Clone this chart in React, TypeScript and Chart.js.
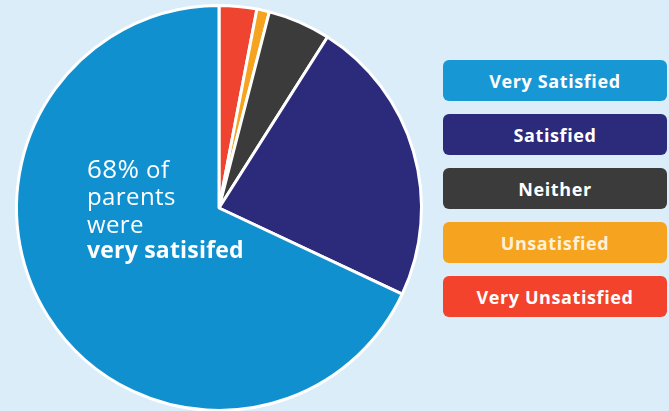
import React, { useEffect, useRef } from "react";
import { Chart, registerables } from "chart.js";

Chart.register(...registerables);

const categories = ["Very Satisfied", "Satisfied", "Neither", "Unsatisfied", "Very Unsatisfied"];
const values = [68, 23, 5, 1, 3];
const sliceColors = ["#1190cf", "#2c2b7b", "#3b3b3c", "#f6a41f", "#ef4430"];
const legendColors = ["#1797d4", "#2c2b7b", "#3b3b3c", "#f6a41f", "#f4432d"];
const legendTextColors = ["#ffffff", "#ffffff", "#ffffff", "#fff1d6", "#ffffff"];
const calloutLines = ["68%", "of", "parents", "were", "very satisifed"];

export default function App() {
  const ref = useRef<HTMLCanvasElement | null>(null);

  useEffect(() => {
    if (!ref.current) return;
    // draw clockwise from 12 o'clock: Very Unsatisfied first, Very Satisfied last
    const order = [4, 3, 2, 1, 0];
    const chart = new Chart(ref.current, {
      type: "pie",
      data: {
        labels: order.map((i) => categories[i]),
        datasets: [
          {
            data: order.map((i) => values[i]),
            backgroundColor: order.map((i) => sliceColors[i]),
            borderColor: "#ffffff",
            borderWidth: 3,
          },
        ],
      },
      options: {
        responsive: false,
        animation: false,
        layout: { padding: 4 },
        plugins: {
          legend: { display: false },
          tooltip: { enabled: false },
        },
      },
    });
    return () => chart.destroy();
  }, []);

  const textFont = "'Open Sans', sans-serif";
  const lineStyle = (top: number, size: number, weight: number): React.CSSProperties => ({
    position: "absolute",
    left: 87,
    top,
    color: "#ffffff",
    fontSize: size,
    lineHeight: "28px",
    fontWeight: weight,
    letterSpacing: 0.4,
    whiteSpace: "nowrap",
    fontFamily: textFont,
  });

  return (
    <div
      style={{
        position: "fixed",
        left: 0,
        top: 0,
        width: 669,
        height: 411,
        background: "#daedf8",
        overflow: "hidden",
        fontFamily: textFont,
      }}
    >
      <canvas
        ref={ref}
        width={438}
        height={416}
        style={{ position: "absolute", left: 0, top: 0, width: 438, height: 416 }}
      />
      <div style={lineStyle(154, 26, 400)}>
        {calloutLines[0]}
        <span style={{ fontSize: 24 }}> {calloutLines[1]}</span>
      </div>
      <div style={lineStyle(182, 24, 400)}>{calloutLines[2]}</div>
      <div style={lineStyle(210, 24, 400)}>{calloutLines[3]}</div>
      <div style={{ ...lineStyle(235, 23, 700), letterSpacing: 0.2 }}>{calloutLines[4]}</div>
      {categories.map((c, i) => (
        <div
          key={c}
          style={{
            position: "absolute",
            left: 443,
            top: 60 + i * 54,
            width: 224,
            height: 41,
            borderRadius: 6,
            background: legendColors[i],
            color: legendTextColors[i],
            fontWeight: 700,
            fontSize: 18,
            letterSpacing: 0.6,
            display: "flex",
            alignItems: "center",
            justifyContent: "center",
            fontFamily: textFont,
          }}
        >
          {c}
        </div>
      ))}
    </div>
  );
}
